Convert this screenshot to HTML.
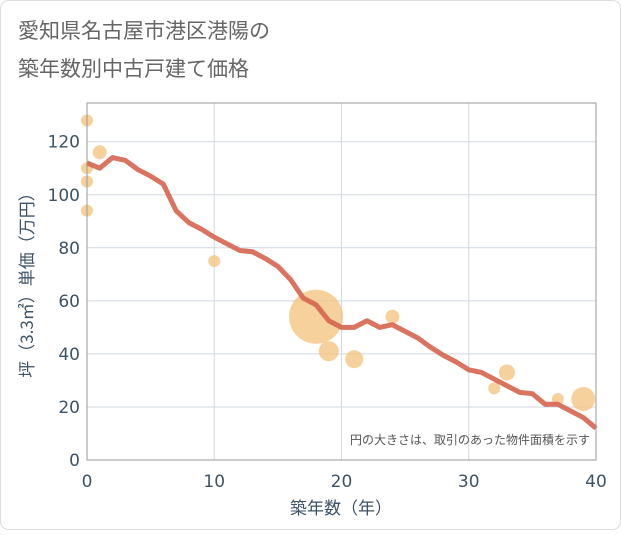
<!DOCTYPE html>
<html><head><meta charset="utf-8"><style>
body{margin:0;background:#fff;font-family:"Liberation Sans","Noto Sans CJK JP",sans-serif;}
#wrap{position:relative;width:621px;height:530px;}
</style></head><body>
<div id="wrap">
<svg id="chart" width="621" height="530">
<rect x="0.5" y="0.5" width="620" height="529" rx="8" fill="#fff" stroke="#ddd"/>
<text x="18" y="38" font-size="21" fill="#666" font-family="Noto Sans CJK JP,sans-serif">愛知県名古屋市港区港陽の</text>
<text x="18" y="76" font-size="21" fill="#666" font-family="Noto Sans CJK JP,sans-serif">築年数別中古戸建て価格</text>
<g id="grid"></g><g id="bubbles"></g><g id="line"></g><g id="axes"></g>
<text x="590" y="444" font-size="12" fill="#555" text-anchor="end" font-family="Noto Sans CJK JP,sans-serif">円の大きさは、取引のあった物件面積を示す</text>
<text x="341" y="514" font-size="17" fill="#3d5368" text-anchor="middle" font-family="Noto Sans CJK JP,sans-serif">築年数（年）</text>
<text transform="translate(33,281) rotate(-90)" font-size="17" fill="#3d5368" text-anchor="middle" font-family="Noto Sans CJK JP,sans-serif">坪（3.3㎡）単価（万円）</text>
</svg></div>
<script>
const xTicks=[0,10,20,30,40];
const yTicks=[0,20,40,60,80,100,120];
const lineYears=[0,1,2,3,4,5,6,7,8,9,10,11,12,13,14,15,16,17,18,19,20,21,22,23,24,25,26,27,28,29,30,31,32,33,34,35,36,37,38,39,40];
const lineValues=[112,110,114,113,109.5,107,104,94,89.5,87,84,81.5,79,78.5,76,73,68,61,58.5,52.5,50,50,52.5,50,51,48.5,46,42.5,39.5,37,34,33,30.5,28,25.5,25,21,21,18.5,16,12];
const bubbleYears=[0,0,0,0,1,10,18,19,21,24,32,33,37,39];
const bubbleValues=[128,110,105,94,116,75,54,41,38,54,27,33,23,23];
const bubbleSizes=[6,6,6,6,7,6,27,10,9,7,6,8,6,12];
const X0=87,X1=596,Y0=460,YTOP=103;
const xs=v=>X0+(X1-X0)*v/40;
const ys=v=>Y0-v*(Y0-141.7)/120;
const NS='http://www.w3.org/2000/svg';
function mk(tag,attrs,parent){const e=document.createElementNS(NS,tag);for(const k in attrs)e.setAttribute(k,attrs[k]);parent.appendChild(e);return e;}
const grid=document.getElementById('grid'),axes=document.getElementById('axes');
xTicks.forEach(t=>{
 const l=mk('line',{x1:xs(t),x2:xs(t),y1:YTOP,y2:Y0,stroke:'#cfd8e3','stroke-width':1},grid);
 
 
 const tx=mk('text',{x:xs(t),y:487,'font-size':17,fill:'#3d5368','text-anchor':'middle','font-family':'DejaVu Sans,sans-serif'},axes);
 tx.textContent=t;
 
 
});
yTicks.forEach(t=>{
 const l=mk('line',{x1:X0,x2:X1,y1:ys(t),y2:ys(t),stroke:'#cfd8e3','stroke-width':1},grid);
 
 
 const tx=mk('text',{x:80,y:ys(t)+6,'font-size':17,fill:'#3d5368','text-anchor':'end','font-family':'DejaVu Sans,sans-serif'},axes);
 tx.textContent=t;
 
 
});
const fr=mk('rect',{x:X0,y:YTOP,width:X1-X0,height:Y0-YTOP,fill:'none',stroke:'#999','stroke-width':1},axes);


const bg=document.getElementById('bubbles');
bubbleYears.forEach((yr,i)=>{
 const c=mk('circle',{cx:xs(yr),cy:ys(bubbleValues[i]),r:bubbleSizes[i],fill:'#f3c27a','fill-opacity':0.75},bg);
 
 
});
const pts=lineYears.map((yr,i)=>xs(yr)+','+ys(lineValues[i])).join(' ');
const pl=mk('polyline',{points:pts,fill:'none',stroke:'#d6654f','stroke-width':5,'stroke-opacity':0.9,'stroke-linejoin':'round'},document.getElementById('line'));


</script>
</body></html>
